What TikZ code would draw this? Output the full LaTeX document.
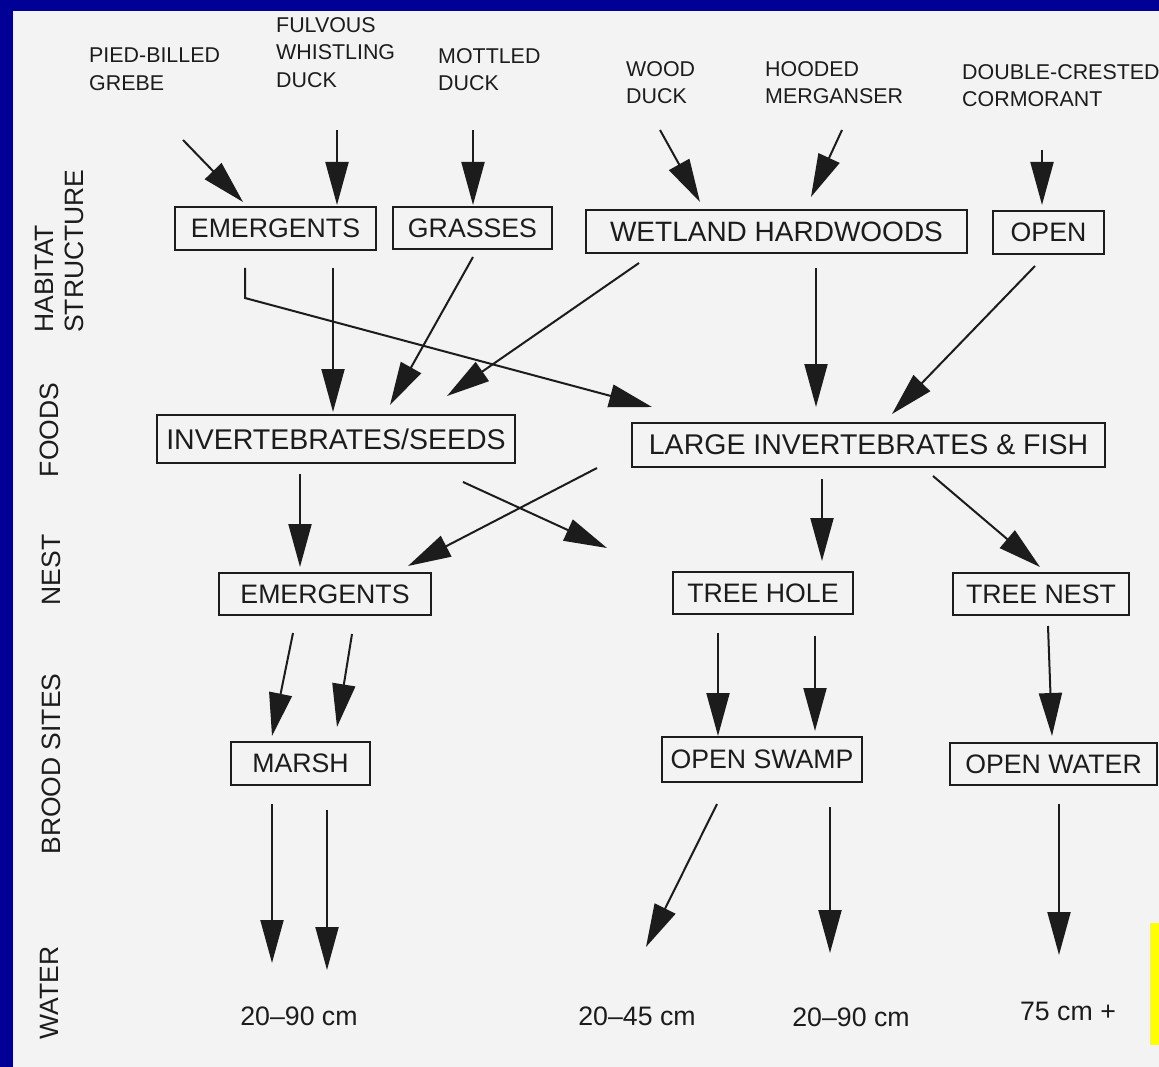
\documentclass[tikz,border=0pt]{standalone}
\usepackage{fontspec}
\setmainfont{Liberation Sans}
\usetikzlibrary{arrows.meta,calc}
\definecolor{bgblue}{RGB}{0,0,150}
\definecolor{paper}{RGB}{243,243,243}
\definecolor{ink}{RGB}{28,28,28}
\definecolor{ylw}{RGB}{255,255,0}
\newcommand\myBoxFont{\fontsize{26.7}{30}\selectfont}
\newcommand\myBigFont{\fontsize{28.5}{30}\selectfont}
\newcommand\myLabFont{\fontsize{21.4}{27.5}\selectfont}
\newcommand\mySideFont{\fontsize{26.5}{30}\selectfont}
\begin{document}
\begin{tikzpicture}[x=1pt,y=-1pt,
  bx/.style={draw=ink, line width=2pt, inner sep=0pt, text=ink, font=\myBoxFont, anchor=center},
  toplab/.style={inner sep=0pt, anchor=north west, align=left, text=ink, font=\myLabFont},
  side/.style={inner sep=0pt, rotate=90, anchor=center, text=ink, font=\mySideFont},
  wlab/.style={inner sep=0pt, anchor=center, text=ink, font=\myBoxFont},
  arr/.style={draw=ink, line width=2pt, -{Triangle[length=43pt,width=23pt]}}]
\useasboundingbox (0,0) rectangle (1159,1067);
\clip (0,0) rectangle (1159,1067);
\fill[bgblue] (0,0) rectangle (1159,1067);
\fill[paper] (13,11) rectangle (1159,1067);
\fill[ylw] (1150,923) rectangle (1159,1045);

% side labels
\node[side, align=left, anchor=north west] (hs) at (35,333) {HABITAT\\STRUCTURE};
\node[side] (sfoods) at (49,430) {FOODS};
\node[side] (snest) at (51,570) {NEST};
\node[side] (sbrood) at (51,764) {BROOD SITES};
\node[side] (swater) at (49,993) {WATER};

% top labels
\node[toplab] (pbg) at (89,48) {PIED-BILLED\\GREBE};
\node[toplab] (fwd) at (276,17) {FULVOUS\\WHISTLING\\DUCK};
\node[toplab] (md) at (438,48) {MOTTLED\\DUCK};
\node[toplab] (wd) at (626,61) {WOOD\\DUCK};
\node[toplab] (hm) at (765,61) {HOODED\\MERGANSER};
\node[toplab] (dcc) at (962,64) {DOUBLE-CRESTED\\CORMORANT};

% habitat structure
\node[bx, minimum width=201pt, minimum height=43pt] (he) at (275.5,228.5) {EMERGENTS};
\node[bx, minimum width=159pt, minimum height=42pt] (hg) at (472.5,228) {GRASSES};
\node[bx, minimum width=381pt, minimum height=43pt, font=\fontsize{28}{30}\selectfont] (hw) at (776.5,231.5) {WETLAND HARDWOODS};
\node[bx, minimum width=111pt, minimum height=43pt] (ho) at (1048.5,232.5) {OPEN};
% foods
\node[bx, minimum width=358pt, minimum height=48pt, font=\myBigFont] (fi) at (336,439) {INVERTEBRATES/SEEDS};
\node[bx, minimum width=473pt, minimum height=44pt, font=\myBigFont] (fl) at (868.5,445) {LARGE INVERTEBRATES \& FISH};
% nest
\node[bx, minimum width=212pt, minimum height=42pt] (ne) at (325,594) {EMERGENTS};
\node[bx, minimum width=180pt, minimum height=42pt] (nh) at (763,593) {TREE HOLE};
\node[bx, minimum width=176pt, minimum height=42pt] (nn) at (1041,594) {TREE NEST};
% brood sites
\node[bx, minimum width=139pt, minimum height=43pt] (bm) at (300.5,763.5) {MARSH};
\node[bx, minimum width=200pt, minimum height=45pt] (bs) at (762,759.5) {OPEN SWAMP};
\node[bx, minimum width=207pt, minimum height=42pt] (bw) at (1053.5,764) {OPEN WATER};
% water
\node[wlab] (w1) at (299,1016) {20–90 cm};
\node[wlab] (w2) at (637,1016) {20–45 cm};
\node[wlab] (w3) at (851,1017) {20–90 cm};
\node[wlab] (w4) at (1068,1011) {75 cm +};
\coordinate (cross) at (607,548);

% top arrows
\draw[arr] ($(pbg.north west)+(94,92)$) -- ($(he.north)+(-32.5,-4)$);
\draw[arr] ($(fwd.north west)+(61,113)$) -- ($(he.north)+(61.5,-1)$);
\draw[arr] ($(md.north west)+(35,82)$) -- ($(hg.north)+(0.5,-1)$);
\draw[arr] ($(wd.north west)+(34,69)$) -- ($(hw.north)+(-76.5,-7)$);
\draw[arr] ($(hm.north west)+(77,69)$) -- ($(hw.north)+(34.5,-12)$);
\draw[arr] ($(dcc.north west)+(80,86)$) -- ($(ho.north)+(-6.5,-5)$);
% habitat -> foods
\draw[arr] ($(he.south)+(-30.5,17)$) -- ($(he.south)+(-30.5,47)$) -- ($(fl.north)+(-216.5,-15)$);
\draw[arr] ($(he.south)+(57.5,17)$) -- ($(fi.north)+(-3,-2)$);
\draw[arr] ($(hg.south)+(0.5,7)$) -- ($(fi.north)+(54,-9)$);
\draw[arr] ($(hw.south)+(-137.5,9)$) -- ($(fi.north)+(111,-18)$);
\draw[arr] ($(hw.south)+(39.5,14)$) -- ($(fl.north)+(-52.5,-15)$);
\draw[arr] ($(ho.south)+(-13.5,11)$) -- ($(fl.north)+(23.5,-8)$);
% foods -> nest
\draw[arr] ($(fi.south)+(-36,10)$) -- ($(ne.north)+(-25,-5)$);
\draw[arr] ($(fi.south)+(127,18)$) -- (cross);
\draw[arr] ($(fl.south west)+(-34,0)$) -- ($(ne.north)+(83,-6)$);
\draw[arr] ($(fl.south)+(-46.5,11)$) -- ($(nh.north)+(59,-10)$);
\draw[arr] ($(fl.south)+(64.5,8)$) -- ($(nn.north)+(-1,-5)$);
% nest -> brood
\draw[arr] ($(ne.south)+(-32,17)$) -- ($(bm.north)+(-28.5,-5)$);
\draw[arr] ($(ne.south)+(27,18)$) -- ($(bm.north)+(36.5,-14)$);
\draw[arr] ($(nh.south)+(-45,18)$) -- ($(bs.north)+(-44,0)$);
\draw[arr] ($(nh.south)+(52,21)$) -- ($(bs.north)+(53,-5)$);
\draw[arr] ($(nn.south)+(7,10)$) -- ($(bw.north)+(-1.5,-6)$);
% brood -> water
\draw[arr] ($(bm.south)+(-28.5,18)$) -- ($(w1.center)+(-27,-53)$);
\draw[arr] ($(bm.south)+(26.5,24)$) -- ($(w1.center)+(28,-46)$);
\draw[arr] ($(bs.south)+(-45,21)$) -- ($(w2.center)+(9,-69)$);
\draw[arr] ($(bs.south)+(68,24)$) -- ($(w3.center)+(-21,-64)$);
\draw[arr] ($(bw.south)+(5.5,18)$) -- ($(w4.center)+(-9,-56)$);
\end{tikzpicture}
\end{document}
